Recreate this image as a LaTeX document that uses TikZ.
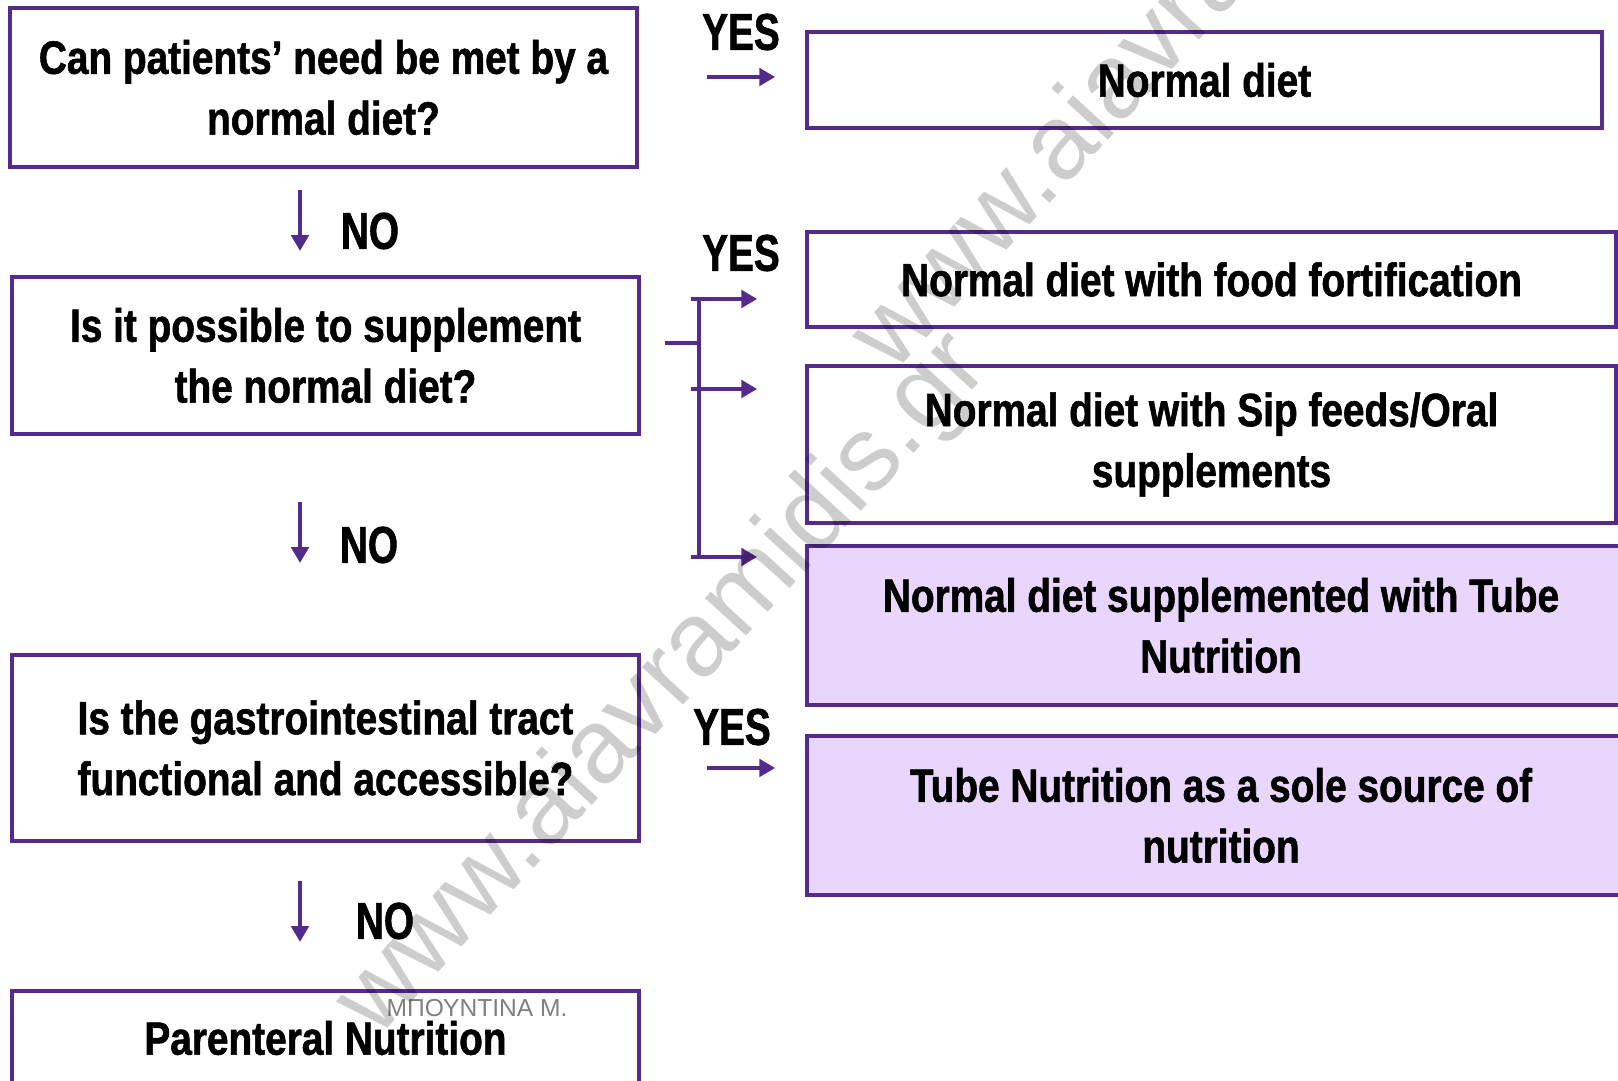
\documentclass[tikz,border=0pt]{standalone}
\usepackage{fontspec}
\setmainfont{Liberation Sans}
\newfontfamily\boxfont{Liberation Sans}[FakeStretch=0.83,FakeBold=1.2]
\newfontfamily\yesnofont{Liberation Sans}[FakeStretch=0.75,FakeBold=1.2]
\usetikzlibrary{arrows.meta,positioning}

\definecolor{boxline}{RGB}{84,42,140}
\definecolor{tubefill}{RGB}{233,214,252}
\definecolor{markgray}{RGB}{205,205,205}

\begin{document}
\begin{tikzpicture}[
        qbox/.style={draw=boxline,line width=1.2pt,fill=white,minimum width=6.27cm,align=center,inner sep=0pt,
            font=\boxfont\bfseries\fontsize{13.3}{17.3}\selectfont},
        dietbox/.style={qbox,minimum width=8.09cm},
        tubebox/.style={qbox,fill=tubefill,minimum width=8.28cm},
        yesno/.style={inner sep=0pt,font=\yesnofont\bfseries\fontsize{14.7}{17}\selectfont},
        link/.style={draw=boxline,line width=1pt},
        linkarrow/.style={link,-{Triangle[length=4.5pt,width=5pt]}},
        watermark/.style={rotate=47.5,text=markgray,blend mode=multiply,font=\fontsize{30}{30}\selectfont}]
    \useasboundingbox (0,0) rectangle (16.18,-10.81);
    \clip (0,0) rectangle (16.18,-10.81);

    % questions on the left
    \node[qbox,minimum height=1.59cm] (normal) at (3.235,-0.875) {Can patients’ need be met by a\\normal diet?};
    \node[qbox,minimum height=1.57cm] (supp) at (3.255,-3.555) {Is it possible to supplement\\the normal diet?};
    \node[qbox,minimum height=1.86cm] (gi) at (3.255,-7.48) {Is the gastrointestinal tract\\functional and accessible?};
    \node[qbox,minimum height=0.94cm] (parenteral) at (3.255,-10.38) {Parenteral Nutrition};

    % answers on the right
    \node[qbox,minimum width=7.95cm,minimum height=0.96cm] (diet) at (12.045,-0.80) {Normal diet};
    \node[dietbox,minimum height=0.95cm] (fortified) at (12.115,-2.795) {Normal diet with food fortification};
    \node[dietbox,minimum height=1.57cm] (sip) at (12.115,-4.445) {Normal diet with Sip feeds/Oral\\supplements};
    \node[tubebox,minimum height=1.59cm] (suppTube) at (12.21,-6.255) {Normal diet supplemented with Tube\\Nutrition};
    \node[tubebox,minimum height=1.59cm] (soleTube) at (12.21,-8.155) {Tube Nutrition as a sole source of\\nutrition};

    % NO arrows
    \draw[linkarrow] ([xshift=-2.35mm,yshift=-2.1mm]normal.south) -- ([xshift=-2.55mm,yshift=2.4mm]supp.north);
    \draw[linkarrow] ([xshift=-2.55mm,yshift=-6.6mm]supp.south) -- ([xshift=-2.55mm,yshift=9mm]gi.north);
    \draw[linkarrow] ([xshift=-2.55mm,yshift=-3.8mm]gi.south) -- ([xshift=-2.55mm,yshift=4.7mm]parenteral.north);
    \node[yesno] (no1) at (3.70,-2.31) {NO};
    \node[yesno] (no2) at (3.69,-5.45) {NO};
    \node[yesno] (no3) at (3.85,-9.21) {NO};

    % YES arrows
    \draw[linkarrow] ([xshift=6.8mm,yshift=1.05mm]normal.east) -- ([xshift=13.6mm,yshift=1.05mm]normal.east);
    \coordinate (fork) at ([xshift=5.8mm,yshift=1.25mm]supp.east);
    \draw[link] ([xshift=-3.4mm]fork) -- (fork);
    \draw[link] ([yshift=4.4mm]fork) -- ([yshift=-21.4mm]fork);
    \foreach \dy in {4.4mm,-4.6mm,-21.4mm}
        \draw[linkarrow] ([xshift=-0.8mm,yshift=\dy]fork) -- ([xshift=5.8mm,yshift=\dy]fork);
    \draw[linkarrow] ([xshift=6.6mm,yshift=-2mm]gi.east) -- ([xshift=13.4mm,yshift=-2mm]gi.east);
    \node[yesno] (yes1) at (7.41,-0.32) {YES};
    \node[yesno] (yes2) at (7.41,-2.53) {YES};
    \node[yesno] (yes3) at (7.32,-7.27) {YES};

    % marks
    \node[text=gray,font=\fontsize{7}{8}\selectfont] (author) at (4.77,-10.08) {ΜΠΟΥΝΤΙΝΑ  Μ.};
    \node[watermark] (mark1) at (6.64,-6.86) {www.aiavramidis.gr};
    \node[watermark] (mark2) at (11.80,-0.21) {www.aiavramidis.gr};
\end{tikzpicture}
\end{document}
